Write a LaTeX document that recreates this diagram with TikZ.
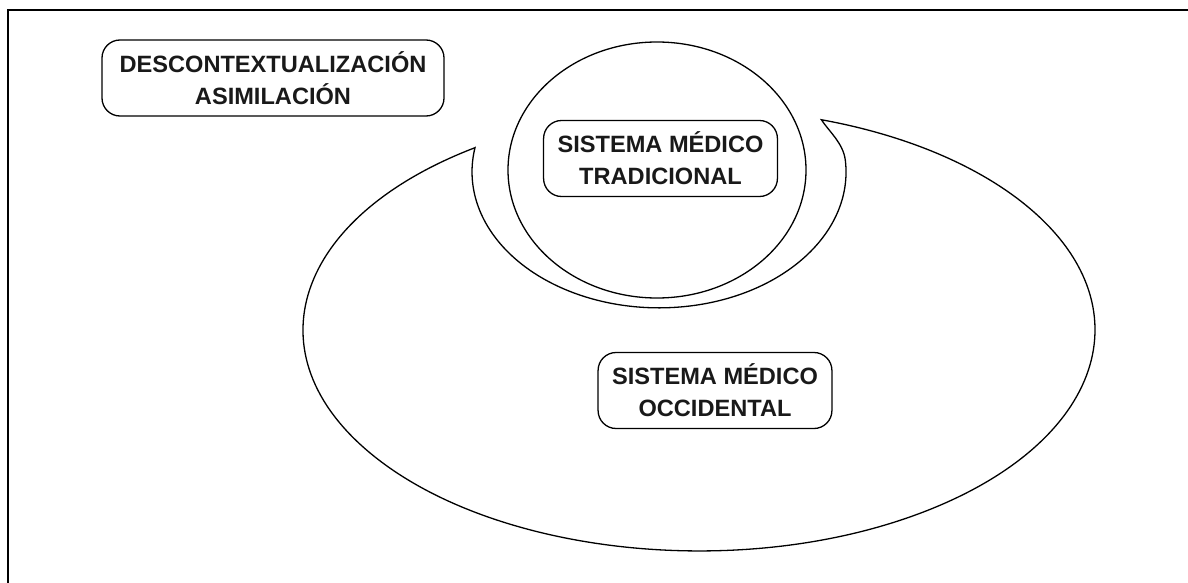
\documentclass[tikz,border=0pt]{standalone}
\usepackage{fontspec}
\setmainfont{Liberation Sans}
\begin{document}
\begin{tikzpicture}[x=1pt,y=-1pt]
	\tikzstyle{marco}=[line width=2.6pt]
	\tikzstyle{contorno}=[line width=1.3pt]
	\tikzstyle{caja}=[draw,line width=1.3pt,rounded corners=18pt,align=center,minimum height=76pt,inner xsep=14pt,font=\fontsize{23.6}{32}\selectfont\bfseries,text=black!90]

	\useasboundingbox (0,0) rectangle (1188,583);
	\draw[marco] (8,583) -- (8,10) -- (1188,10);

	% zona del sistema occidental, con la escotadura alrededor del tradicional
	\coordinate (puntaizq) at (474.7,147.8);
	\coordinate (puntader) at (821.4,119.8);
	\draw[contorno] (puntaizq) arc[start angle=235.5, end angle=-72, x radius=396, y radius=221]
		.. controls (829.5,132) and (843,143) .. (845.3,160)
		arc[start angle=-5, end angle=190.25, x radius=187, y radius=136] -- cycle;

	% sistema tradicional
	\draw[contorno] (657,170) ellipse[x radius=149, y radius=128];

	\node[caja,minimum width=342pt] (descontextualizacion) at (273,78) {DESCONTEXTUALIZACIÓN\\ASIMILACIÓN};
	\node[caja] (tradicional) at (660.5,158.5) {SISTEMA MÉDICO\\TRADICIONAL};
	\node[caja] (occidental) at (715,390.5) {SISTEMA MÉDICO\\OCCIDENTAL};
\end{tikzpicture}
\end{document}
